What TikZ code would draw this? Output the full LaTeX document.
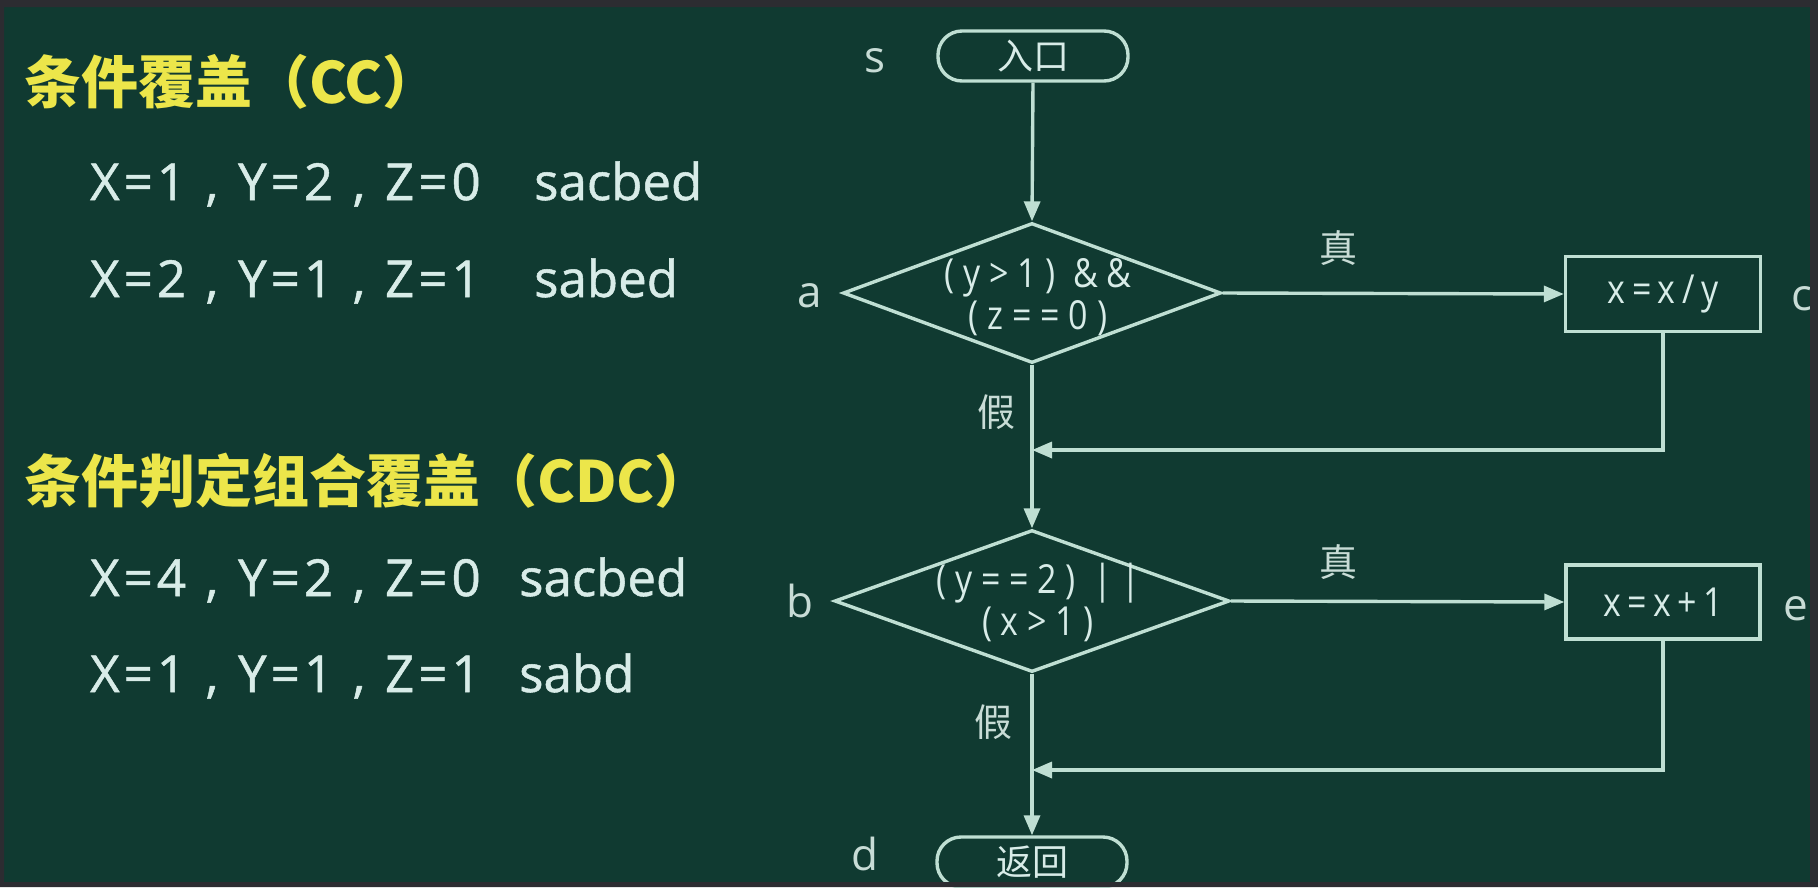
\documentclass[tikz,border=0pt]{standalone}
\usepackage{fontspec}
\setmainfont{Open Sans}
\newfontfamily\cjk{Noto Sans CJK SC}
\newfontfamily\fcfont{Open Sans}[FakeStretch=0.85, LetterSpace=22]
\newfontfamily\bxfont{Open Sans}[FakeStretch=0.85, LetterSpace=16]
\newfontfamily\eqfont{Open Sans}[LetterSpace=8, FakeBold=1]
\newfontfamily\pathfont{Open Sans}[FakeBold=1]
\usetikzlibrary{shapes.geometric,arrows.meta}
\definecolor{bg}{HTML}{103A31}
\definecolor{frame}{HTML}{2C2C31}
\definecolor{ln}{HTML}{BFDFD3}
\definecolor{txt}{HTML}{D8ECE8}
\definecolor{lbl}{HTML}{C8DCD6}
\definecolor{ttl}{HTML}{ECE64A}
\newcommand{\sepc}{\makebox[52pt][c]{,}}
\tikzset{
  ttlsty/.style={inner sep=0pt, anchor=base west, text=ttl, font={\cjk\bfseries\fontsize{57}{60}\selectfont}},
  eqsty/.style={inner sep=0pt, anchor=base west, text=txt, font={\eqfont\fontsize{51}{56}\selectfont}},
  pathsty/.style={inner sep=0pt, anchor=base west, text=txt, font={\pathfont\fontsize{51}{56}\selectfont}},
  fl/.style={draw=ln, line width=3.4pt},
  diabox/.style={fl, diamond, inner sep=0pt},
  procbox/.style={fl, rectangle, inner sep=0pt, text=txt, font={\bxfont\fontsize{40}{42}\selectfont}},
  termbox/.style={fl, rectangle, rounded corners=24pt, inner sep=0pt, minimum width=190pt, minimum height=50pt, text=txt, font={\cjk\fontsize{36}{40}\selectfont}},
  fctext/.style={inner sep=0pt, text=txt, font={\fcfont\fontsize{40}{42}\selectfont}, align=center},
  ptlbl/.style={inner sep=0pt, anchor=base, text=lbl, font={\fontsize{44}{48}\selectfont}},
  yn/.style={inner sep=0pt, text=lbl, font={\cjk\fontsize{38}{40}\selectfont}},
  arr/.style={draw=ln, line width=3.4pt, -{Triangle[length=20pt,width=16pt]}},
}
\begin{document}
\begin{tikzpicture}[x=1pt,y=-1pt]
\useasboundingbox (0,0) rectangle (1818,887);
\fill[bg] (0,0) rectangle (1818,887);

% left column
\node[ttlsty] (t1) at (24,103) {条件覆盖（CC）};
\node[eqsty] (l1) at (90,200) {X=1\sepc Y=2\sepc Z=0};
\node[pathsty] (p1) at (534,200) {sacbed};
\node[eqsty] (l2) at (90,297) {X=2\sepc Y=1\sepc Z=1};
\node[pathsty] (p2) at (534,297) {sabed};
\node[ttlsty] (t2) at (24,502) {条件判定组合覆盖（CDC）};
\node[eqsty] (l3) at (90,596) {X=4\sepc Y=2\sepc Z=0};
\node[pathsty] (p3) at (519,596) {sacbed};
\node[eqsty] (l4) at (90,692) {X=1\sepc Y=1\sepc Z=1};
\node[pathsty] (p4) at (519,692) {sabd};

% flowchart
\node[termbox] (s) at (1033,56) {入口};
\node[diabox, minimum width=378pt, minimum height=140pt] (a) at (1032,293) {};
\node[fctext] (atext) at (1038,297) {(y>1) \&\&\\(z==0)};
\node[procbox, minimum width=195pt, minimum height=75pt] (c) at (1663,294) {x=x/y};
\node[diabox, minimum width=395pt, minimum height=142pt] (b) at (1032,601) {};
\node[fctext] (btext) at (1038,602) {(y==2) ||\\(x>1)};
\node[procbox, minimum width=194pt, minimum height=74pt] (e) at (1663,602) {x=x+1};
\node[termbox] (d) at (1032,862) {返回};

\node[ptlbl] (ls) at (875,72) {s};
\node[ptlbl] (la) at (810,307) {a};
\node[ptlbl] (lc) at (1802,310) {c};
\node[ptlbl] (lb) at (800,617) {b};
\node[ptlbl] (le) at (1796,620) {e};
\node[ptlbl] (ld) at (865,870) {d};

\node[yn] (y1) at (1338,248) {真};
\node[yn] (n1) at (996,412) {假};
\node[yn] (y2) at (1338,562) {真};
\node[yn] (n2) at (993,722) {假};

\coordinate (m1) at (1032,450);
\coordinate (m2) at (1032,770);
\draw[arr] (s.south) -- (a.north);
\draw[arr] (a.east) -- (c.west);
\draw[arr] (c.south) |- (m1);
\draw[arr] (a.south) -- (b.north);
\draw[arr] (b.east) -- (e.west);
\draw[arr] (e.south) |- (m2);
\draw[arr] (b.south) -- (d.north);

% screen frame
\fill[frame, even odd rule] (0,0) rectangle (1818,887) (4,7) rectangle (1810,882);
\end{tikzpicture}
\end{document}
